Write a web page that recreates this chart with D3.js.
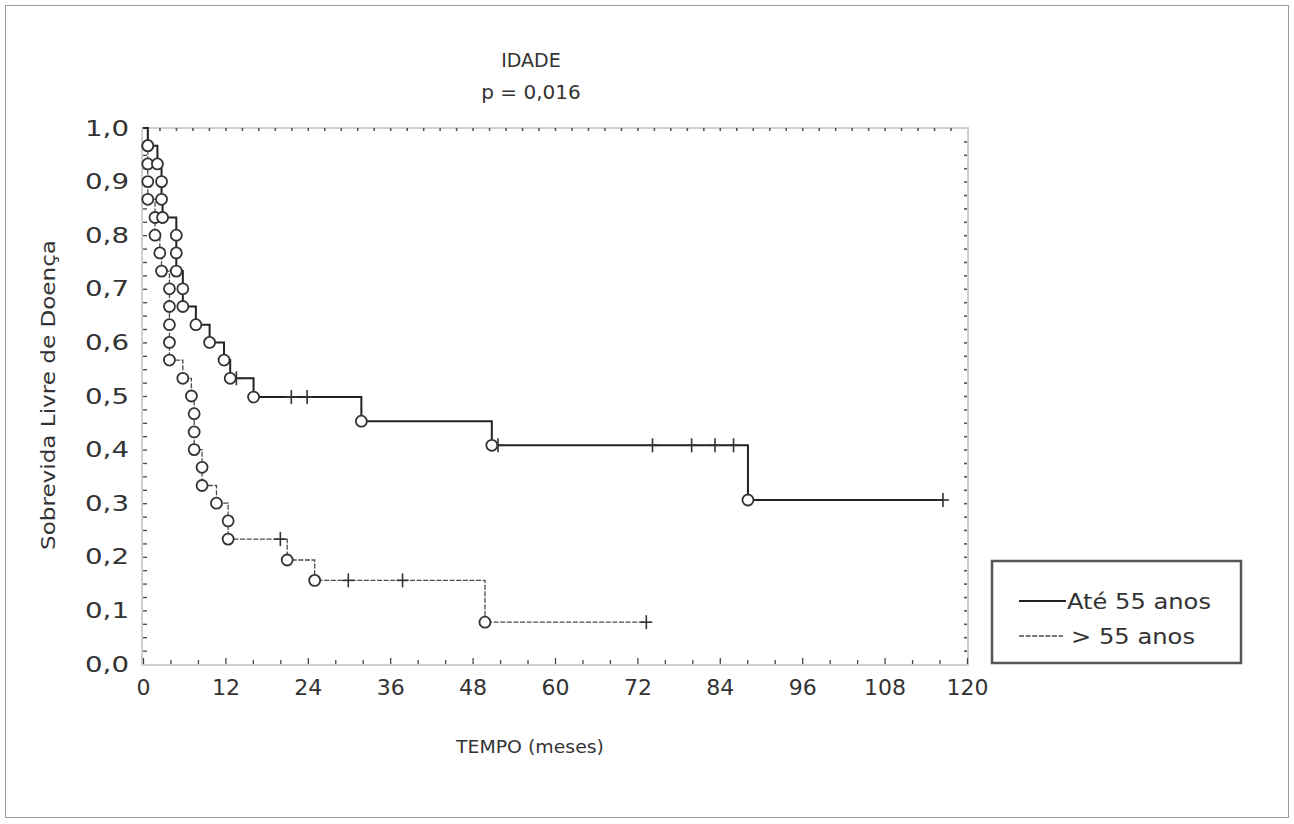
<!DOCTYPE html>
<html>
<head>
<meta charset="utf-8">
<script src="https://cdn.jsdelivr.net/npm/d3@7"></script>
<style>
  html, body { margin: 0; padding: 0; background: #fff; }
  svg { display: block; }
  text { font-family: "DejaVu Sans", sans-serif; fill: #333; }
</style>
</head>
<body>
<svg id="chart" width="1294" height="824"></svg>
<script>
// ---- data ----
const titleLines = ["IDADE", "p = 0,016"];
const xTickValues = [0, 12, 24, 36, 48, 60, 72, 84, 96, 108, 120];
const yTickValues = [0, 0.1, 0.2, 0.3, 0.4, 0.5, 0.6, 0.7, 0.8, 0.9, 1.0];
const yTickLabels = ["0,0", "0,1", "0,2", "0,3", "0,4", "0,5", "0,6", "0,7", "0,8", "0,9", "1,0"];
const seriesNames = ["Até 55 anos", "> 55 anos"];

// Até 55 anos: event times (one per circle) and survival after each event
const upEventTimes  = [0.7, 2.1, 2.7, 2.7, 2.85, 4.85, 4.85, 4.85, 5.8, 5.8, 7.7, 9.7, 11.8, 12.7, 16.1, 31.8, 50.8, 88.1];
const upEventValues = [0.967, 0.933, 0.9, 0.867, 0.833, 0.8, 0.767, 0.733, 0.7, 0.667, 0.633, 0.6, 0.567, 0.533, 0.498, 0.453, 0.408, 0.306];
const upCensorTimes = [13.6, 21.6, 23.9, 51.7, 74.2, 79.9, 83.3, 86.0, 116.5];

// > 55 anos
const loEventTimes  = [0.7, 0.7, 0.7, 0.7, 1.75, 1.75, 2.45, 2.7, 3.85, 3.85, 3.85, 3.85, 3.85, 5.8, 7.05, 7.45, 7.45, 7.45, 8.6, 8.6, 10.7, 12.4, 12.4, 21.0, 25.0, 49.8];
const loEventValues = [0.967, 0.933, 0.9, 0.867, 0.833, 0.8, 0.767, 0.733, 0.7, 0.667, 0.633, 0.6, 0.567, 0.533, 0.5, 0.467, 0.433, 0.4, 0.367, 0.333, 0.3, 0.267, 0.233, 0.194, 0.156, 0.078];
const loCensorTimes = [20.0, 29.9, 37.8, 73.3];

// ---- drawing ----
const svg = d3.select("#chart");
const x = d3.scaleLinear().domain([0, 120]).range([143, 967]);
const y = d3.scaleLinear().domain([0, 1]).range([664, 128]);

// outer border
svg.append("rect").attr("x", 5.5).attr("y", 5.5).attr("width", 1283).attr("height", 812)
  .attr("fill", "none").attr("stroke", "#9a9a9a").attr("stroke-width", 1);

// title
svg.append("text").attr("x", 531).attr("y", 67).attr("text-anchor", "middle")
  .attr("font-size", 19).text(titleLines[0]);
svg.append("text").attr("x", 531).attr("y", 99).attr("text-anchor", "middle")
  .attr("font-size", 20).text(titleLines[1]);

// plot frame
svg.append("rect").attr("x", x(0) - 1).attr("y", y(1)).attr("width", x(120) - x(0) + 2).attr("height", y(0) - y(1) + 1)
  .attr("fill", "none").attr("stroke", "#cfcfcf").attr("stroke-width", 2);

function styleTicks(g, color, w) {
  g.select(".domain").remove();
  g.selectAll(".tick line").attr("stroke", color).attr("stroke-width", w);
}

// inner ticks: bottom (every 4 months), majors at 12
svg.append("g").attr("transform", `translate(0,${y(0)})`)
  .call(d3.axisTop(x).tickValues(d3.range(0, 121, 4).filter(v => v % 12 !== 0)).tickSize(4).tickFormat(""))
  .call(g => styleTicks(g, "#444", 1.3));
svg.append("g").attr("transform", `translate(0,${y(0)})`)
  .call(d3.axisTop(x).tickValues(xTickValues).tickSize(6).tickFormat(""))
  .call(g => styleTicks(g, "#444", 1.3));
// top ticks (dots)
svg.append("g").attr("transform", `translate(0,${y(1)})`)
  .call(d3.axisBottom(x).tickValues(d3.range(2.4, 120, 2.4)).tickSize(3).tickFormat(""))
  .call(g => styleTicks(g, "#555", 1.6));
// left ticks
svg.append("g").attr("transform", `translate(${x(0)},0)`)
  .call(d3.axisRight(y).tickValues(d3.range(0.025, 1, 0.025)).tickSize(4).tickFormat(""))
  .call(g => styleTicks(g, "#444", 1.3));
// right ticks
svg.append("g").attr("transform", `translate(${x(120)},0)`)
  .call(d3.axisLeft(y).tickValues(d3.range(0.025, 1, 0.025)).tickSize(3).tickFormat(""))
  .call(g => styleTicks(g, "#555", 1.6));

// tick labels
const xAx = svg.append("g").attr("transform", `translate(0,${y(0)})`)
  .call(d3.axisBottom(x).tickValues(xTickValues).tickSize(0).tickPadding(15).tickFormat(d => String(d)));
xAx.select(".domain").remove();
xAx.selectAll("text").attr("font-size", 22).attr("font-family", "DejaVu Sans").attr("fill", "#333");

const yAx = svg.append("g").attr("transform", `translate(${x(0)},0)`)
  .call(d3.axisLeft(y).tickValues(yTickValues).tickSize(0).tickPadding(14)
    .tickFormat((d, i) => yTickLabels[i]));
yAx.select(".domain").remove();
yAx.selectAll("text").attr("font-size", 22).attr("font-family", "DejaVu Sans").attr("fill", "#333")
  .attr("textLength", 44).attr("lengthAdjust", "spacingAndGlyphs");

// axis titles
svg.append("text").attr("transform", "translate(55,395) rotate(-90)").attr("text-anchor", "middle")
  .attr("font-size", 20).attr("textLength", 310).attr("lengthAdjust", "spacingAndGlyphs")
  .text("Sobrevida Livre de Doença");
svg.append("text").attr("x", 530).attr("y", 753).attr("text-anchor", "middle")
  .attr("font-size", 18).attr("textLength", 148).attr("lengthAdjust", "spacingAndGlyphs")
  .text("TEMPO (meses)");

// KM curves
function stepPoints(times, values, censors) {
  const pts = [[0, 1]];
  times.forEach((t, i) => pts.push([t, values[i]]));
  const lastT = d3.max(censors.concat(times));
  pts.push([lastT, values[values.length - 1]]);
  return pts;
}
function survAt(times, values, t) {
  let s = 1;
  times.forEach((tt, i) => { if (tt <= t) s = values[i]; });
  return s;
}
const line = d3.line().x(d => x(d[0])).y(d => y(d[1])).curve(d3.curveStepAfter);

const series = [
  { times: loEventTimes, values: loEventValues, censors: loCensorTimes, stroke: "#4a4a4a", width: 1.3, dash: "5,1.6" },
  { times: upEventTimes, values: upEventValues, censors: upCensorTimes, stroke: "#222", width: 2, dash: null }
];

series.forEach(s => {
  svg.append("path").datum(stepPoints(s.times, s.values, s.censors))
    .attr("d", line)
    .attr("fill", "none").attr("stroke", s.stroke).attr("stroke-width", s.width)
    .attr("stroke-dasharray", s.dash);
  // censor crosses
  const cg = svg.append("g");
  s.censors.forEach(t => {
    const cx = x(t), cy = y(survAt(s.times, s.values, t));
    cg.append("line").attr("x1", cx).attr("x2", cx).attr("y1", cy - 7).attr("y2", cy + 7)
      .attr("stroke", "#333").attr("stroke-width", 1.6);
    cg.append("line").attr("x1", cx - 6).attr("x2", cx + 6).attr("y1", cy).attr("y2", cy)
      .attr("stroke", "#333").attr("stroke-width", 1.6);
  });
});
// event circles
series.forEach(s => {
  svg.append("g").selectAll("circle").data(s.times.map((t, i) => [t, s.values[i]])).join("circle")
    .attr("cx", d => x(d[0])).attr("cy", d => y(d[1])).attr("r", 5.5)
    .attr("fill", "#fff").attr("stroke", "#333").attr("stroke-width", 1.8);
});

// legend
const lg = svg.append("g");
lg.append("rect").attr("x", 992).attr("y", 561).attr("width", 249).attr("height", 102)
  .attr("fill", "#fff").attr("stroke", "#555").attr("stroke-width", 2.5);
lg.append("line").attr("x1", 1019).attr("x2", 1066).attr("y1", 601).attr("y2", 601)
  .attr("stroke", "#222").attr("stroke-width", 2);
lg.append("line").attr("x1", 1019).attr("x2", 1063).attr("y1", 636).attr("y2", 636)
  .attr("stroke", "#4a4a4a").attr("stroke-width", 1.3).attr("stroke-dasharray", "5,1.6");
lg.append("text").attr("x", 1067).attr("y", 609).attr("font-size", 21)
  .attr("textLength", 144).attr("lengthAdjust", "spacingAndGlyphs").text(seriesNames[0]);
lg.append("text").attr("x", 1071).attr("y", 644).attr("font-size", 21)
  .attr("textLength", 124).attr("lengthAdjust", "spacingAndGlyphs").text(seriesNames[1]);
</script>
</body>
</html>
